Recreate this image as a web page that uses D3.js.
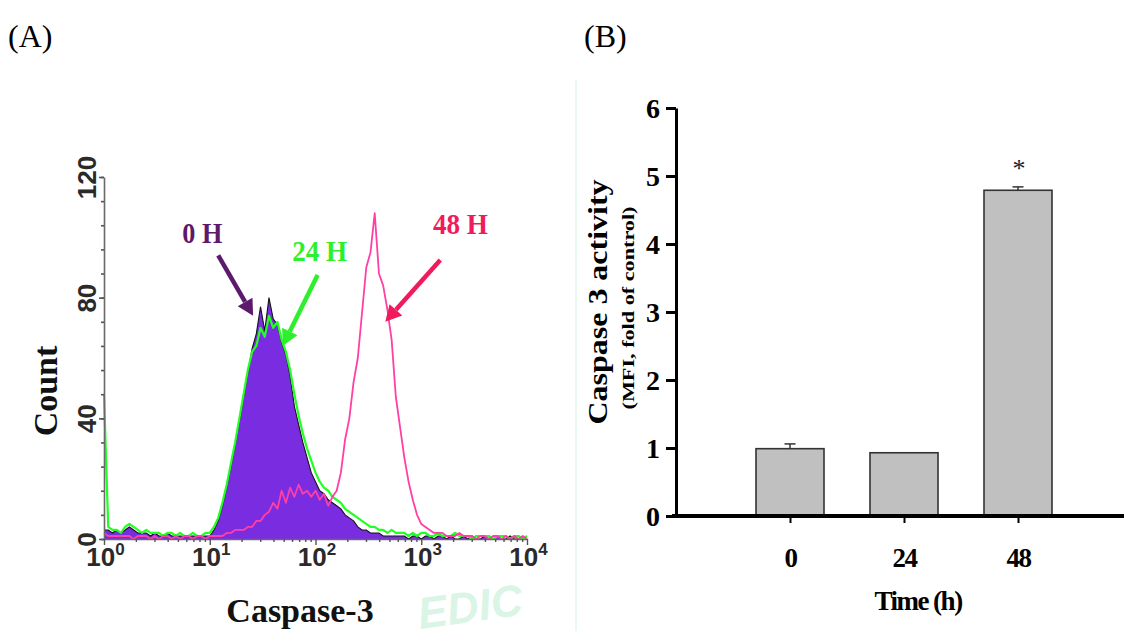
<!DOCTYPE html>
<html>
<head>
<meta charset="utf-8">
<script src="https://cdn.jsdelivr.net/npm/d3@7"></script>
<style>
  body { margin: 0; background: #fff; }
  svg { display: block; }
</style>
</head>
<body>
<svg id="chart" width="1124" height="631"></svg>
<script>
// ---- panel A : flow cytometry histogram, bins every 0.04 decade from 10^0 to 10^4 ----
const binDecades = d3.range(101).map(i => i * 0.04);

const count0H = [
  3, 3, 2, 3, 2, 3, 4, 3, 2, 2,
  2, 1, 2, 1, 1, 2, 1, 1, 1, 1,
  1, 1, 1, 1, 1, 1, 3, 6, 11, 17,
  24, 31, 39, 47, 55, 63, 68, 77, 69, 80,
  73, 71, 65, 61, 54, 44, 38, 32, 27, 22,
  19, 16, 15, 13, 12, 11, 10, 8, 7, 6,
  4, 3, 3, 2, 2, 2, 1, 1, 1, 1,
  1, 1, 0, 1, 1, 0, 1, 1, 0, 1,
  1, 0, 1, 0, 0, 1, 0, 1, 0, 0,
  1, 0, 0, 1, 0, 0, 1, 0, 0, 0, 0
];
const count24H = [
  48, 4, 3, 3, 2, 4, 5, 4, 3, 2,
  3, 2, 2, 2, 1, 2, 2, 1, 2, 1,
  1, 2, 1, 1, 2, 2, 4, 7, 12, 18,
  25, 32, 40, 48, 56, 62, 64, 70, 67, 74,
  70, 72, 66, 62, 56, 48, 41, 35, 30, 26,
  22, 19, 17, 16, 14, 13, 12, 10, 9, 8,
  7, 6, 5, 4, 4, 3, 3, 2, 3, 2,
  2, 2, 1, 2, 1, 2, 2, 1, 1, 2,
  1, 1, 1, 2, 1, 1, 1, 0, 1, 1,
  1, 1, 0, 1, 1, 1, 0, 1, 1, 0, 1
];
const count48H = [
  2, 1, 1, 1, 1, 1, 1, 0, 1, 1,
  1, 0, 1, 0, 1, 1, 0, 1, 0, 1,
  1, 0, 1, 1, 0, 1, 1, 1, 1, 2,
  2, 3, 3, 3, 4, 4, 6, 6, 8, 9,
  12, 10, 16, 12, 17, 14, 18, 15, 16, 14,
  16, 13, 15, 11, 14, 16, 22, 33, 40, 52,
  60, 75, 90, 95, 108, 88, 84, 76, 66, 47,
  37, 27, 19, 13, 8, 5, 4, 3, 2, 2,
  2, 1, 1, 1, 2, 1, 1, 1, 0, 1,
  1, 0, 1, 1, 0, 1, 0, 1, 0, 1, 0
];
const countTicks = [0, 40, 80, 120];
const decadeTicks = [1, 10, 100, 1000, 10000];

// ---- panel B : caspase 3 activity ----
const timeLabels = ["0", "24", "48"];
const activity = [0.99, 0.93, 4.79];
const activityErr = [0.07, 0, 0.05];
const activityTicks = [0, 1, 2, 3, 4, 5, 6];

const svg = d3.select("#chart");
const serif = "'Liberation Serif', 'Times New Roman', serif";
const sans = "'Liberation Sans', Arial, sans-serif";

// watermark remains
svg.append("line")
    .attr("x1", 576).attr("x2", 576).attr("y1", 80).attr("y2", 631)
    .attr("stroke", "#e2f7ea").attr("stroke-width", 1.5);
svg.append("text")
    .attr("transform", "translate(420,629) rotate(-8)")
    .style("font-family", sans).style("font-style", "italic").style("font-weight", "bold")
    .style("font-size", "44px")
    .attr("fill", "#daf5e5")
    .text("EDIC");

// panel letters
svg.append("text").attr("x", 8).attr("y", 47)
    .style("font-family", serif).style("font-size", "32px").text("(A)");
svg.append("text").attr("x", 584).attr("y", 47)
    .style("font-family", serif).style("font-size", "32px").text("(B)");

// ================= panel A =================
const xA = d3.scaleLog().domain([1, 10000]).range([104, 527]);
const yA = d3.scaleLinear().domain([0, 120]).range([539, 177]);

const bins = binDecades.map((d, i) => ({
  v: Math.pow(10, d), c0: count0H[i], c24: count24H[i], c48: count48H[i]
}));

const gA = svg.append("g");

gA.append("path")
    .datum(bins)
    .attr("fill", "#7a2ce0")
    .attr("d", d3.area().x(d => xA(d.v)).y0(yA(0)).y1(d => yA(d.c0)));
gA.append("path")
    .datum(bins)
    .attr("fill", "none").attr("stroke", "#141414").attr("stroke-width", 1.1)
    .attr("d", d3.line().x(d => xA(d.v)).y(d => yA(d.c0)));
gA.append("path")
    .datum(bins)
    .attr("fill", "none").attr("stroke", "#22ff22").attr("stroke-width", 2.2)
    .attr("stroke-linejoin", "round")
    .attr("d", d3.line().x(d => xA(d.v)).y(d => yA(d.c24)));
gA.append("path")
    .datum(bins)
    .attr("fill", "none").attr("stroke", "#ff3fa6").attr("stroke-width", 1.8)
    .attr("stroke-linejoin", "round")
    .attr("d", d3.line().x(d => xA(d.v)).y(d => yA(d.c48)));

// y axis A: minor ticks every 8, labelled ticks every 40
const yMinorA = gA.append("g")
    .attr("transform", `translate(${xA(1)},0)`)
    .call(d3.axisLeft(yA).tickValues(d3.range(0, 121, 8)).tickSize(3).tickSizeOuter(0).tickFormat(""));
yMinorA.selectAll("text").remove();
const yMajorA = gA.append("g")
    .attr("transform", `translate(${xA(1)},0)`)
    .call(d3.axisLeft(yA).tickValues(countTicks).tickSize(5).tickSizeOuter(0));
yMajorA.select(".domain").remove();
gA.selectAll("path.domain").attr("stroke", "#6a6a6a").attr("stroke-width", 1.6);
[yMinorA, yMajorA].forEach(g => g.selectAll("line").attr("stroke", "#555").attr("stroke-width", 1.6));
yMajorA.selectAll("text")
    .attr("x", null).attr("dy", null)
    .attr("transform", "translate(-8,0) rotate(-90)")
    .attr("text-anchor", "middle")
    .attr("fill", "#2a2a2a")
    .style("font-family", sans).style("font-weight", "bold").style("font-size", "26px");

// x axis A with log minor ticks
const minorDecade = [];
decadeTicks.slice(0, 4).forEach(p => d3.range(2, 10).forEach(k => minorDecade.push(p * k)));
const xMinorA = gA.append("g")
    .attr("transform", `translate(0,${yA(0)})`)
    .call(d3.axisBottom(xA).tickValues(minorDecade).tickSize(3).tickFormat("").tickSizeOuter(0));
xMinorA.selectAll("text").remove();
xMinorA.select(".domain").attr("stroke", "#6a6a6a").attr("stroke-width", 1.6);
xMinorA.selectAll("line").attr("stroke", "#555").attr("stroke-width", 1.4);
const xMajorA = gA.append("g")
    .attr("transform", `translate(0,${yA(0)})`)
    .call(d3.axisBottom(xA).tickValues(decadeTicks).tickSize(6).tickSizeOuter(0));
xMajorA.select(".domain").remove();
xMajorA.selectAll("line").attr("stroke", "#555").attr("stroke-width", 1.4);
xMajorA.selectAll("text")
    .attr("y", 27).attr("dy", null).attr("x", 1)
    .attr("fill", "#2a2a2a")
    .style("font-family", sans).style("font-weight", "bold").style("font-size", "26px")
    .each(function(d) {
      const t = d3.select(this);
      t.text(null);
      t.append("tspan").text("10");
      t.append("tspan").attr("dy", -11).style("font-size", "17px").text(Math.round(Math.log10(d)));
    });

gA.append("text")
    .attr("transform", "translate(57,391) rotate(-90)")
    .attr("text-anchor", "middle")
    .style("font-family", serif).style("font-weight", "bold").style("font-size", "34px")
    .attr("fill", "#111")
    .text("Count");
gA.append("text")
    .attr("x", 300).attr("y", 622)
    .attr("text-anchor", "middle")
    .style("font-family", serif).style("font-weight", "bold").style("font-size", "34px")
    .attr("fill", "#111")
    .text("Caspase-3");

// series labels + arrows (in data units)
const labelsA = [
  { text: "0 H", color: "#5c1a6c", dec: 0.93, cnt: 98, len: 40, from: [1.08, 94], to: [1.41, 74] },
  { text: "24 H", color: "#2cf02c", dec: 2.04, cnt: 92, len: 55, from: [2.02, 87.5], to: [1.69, 64] },
  { text: "48 H", color: "#f01a5c", dec: 3.37, cnt: 101, len: 55, from: [3.18, 92.5], to: [2.66, 72] }
];
labelsA.forEach(l => {
  gA.append("text")
      .attr("x", xA(Math.pow(10, l.dec))).attr("y", yA(l.cnt))
      .attr("text-anchor", "middle")
      .attr("textLength", l.len).attr("lengthAdjust", "spacingAndGlyphs")
      .style("font-family", serif).style("font-weight", "bold").style("font-size", "29px")
      .attr("fill", l.color)
      .text(l.text);
  const x1 = xA(Math.pow(10, l.from[0])), y1 = yA(l.from[1]);
  const x2 = xA(Math.pow(10, l.to[0])), y2 = yA(l.to[1]);
  const ang = Math.atan2(y2 - y1, x2 - x1);
  const head = 16, half = 8.5;
  const bx = x2 - head * Math.cos(ang), by = y2 - head * Math.sin(ang);
  gA.append("line")
      .attr("x1", x1).attr("y1", y1).attr("x2", bx).attr("y2", by)
      .attr("stroke", l.color).attr("stroke-width", 4.5);
  gA.append("path")
      .attr("d", `M${x2},${y2}L${bx + half * Math.sin(ang)},${by - half * Math.cos(ang)}L${bx - half * Math.sin(ang)},${by + half * Math.cos(ang)}Z`)
      .attr("fill", l.color);
});

// ================= panel B =================
const xB = d3.scalePoint().domain(timeLabels).range([790, 1018]);
const yB = d3.scaleLinear().domain([0, 6]).range([516, 108]);
const barW = 68;

const gB = svg.append("g");

gB.selectAll("rect.bar")
    .data(timeLabels)
    .enter().append("rect")
    .attr("class", "bar")
    .attr("x", d => xB(d) - barW / 2)
    .attr("y", (d, i) => yB(activity[i]))
    .attr("width", barW)
    .attr("height", (d, i) => yB(0) - yB(activity[i]))
    .attr("fill", "#c0c0c0")
    .attr("stroke", "#333").attr("stroke-width", 1.6);

timeLabels.forEach((d, i) => {
  if (!activityErr[i]) return;
  const top = yB(activity[i] + activityErr[i]);
  gB.append("line")
      .attr("x1", xB(d)).attr("x2", xB(d))
      .attr("y1", yB(activity[i])).attr("y2", top)
      .attr("stroke", "#333").attr("stroke-width", 1.5);
  gB.append("line")
      .attr("x1", xB(d) - 5.5).attr("x2", xB(d) + 5.5)
      .attr("y1", top).attr("y2", top)
      .attr("stroke", "#333").attr("stroke-width", 1.5);
});

gB.append("text")
    .attr("x", xB("48") + 1).attr("y", yB(activity[2] + activityErr[2]) - 10)
    .attr("text-anchor", "middle")
    .style("font-family", serif).style("font-size", "26px")
    .attr("fill", "#1a2030")
    .text("*");

// axes B
const yAxisB = gB.append("g")
    .attr("transform", "translate(676,0)")
    .call(d3.axisLeft(yB).tickValues(activityTicks).tickFormat(d3.format("d"))
      .tickSize(10).tickSizeOuter(0).tickPadding(6));
yAxisB.selectAll("path").attr("stroke", "#000").attr("stroke-width", 3);
yAxisB.selectAll("line").attr("stroke", "#000").attr("stroke-width", 3);
yAxisB.selectAll("text")
    .attr("dy", "0.34em")
    .attr("fill", "#000")
    .style("font-family", serif).style("font-weight", "bold").style("font-size", "28px");

gB.append("line")
    .attr("x1", 672).attr("x2", 1124).attr("y1", yB(0)).attr("y2", yB(0))
    .attr("stroke", "#000").attr("stroke-width", 4);

const xAxisB = gB.append("g")
    .attr("transform", `translate(0,${yB(0)})`)
    .call(d3.axisBottom(xB).tickSize(7).tickSizeOuter(0));
xAxisB.select(".domain").remove();
xAxisB.selectAll("line").attr("stroke", "#000").attr("stroke-width", 2);
xAxisB.selectAll("text")
    .attr("y", 51).attr("dy", null)
    .attr("fill", "#000")
    .attr("letter-spacing", "-1.5px")
    .style("font-family", serif).style("font-weight", "bold").style("font-size", "27px");

gB.append("text")
    .attr("x", 918).attr("y", 610)
    .attr("text-anchor", "middle")
    .attr("letter-spacing", "-1.5px")
    .style("font-family", serif).style("font-weight", "bold").style("font-size", "27px")
    .text("Time (h)");

gB.append("text")
    .attr("transform", "translate(607,302) rotate(-90)")
    .attr("text-anchor", "middle")
    .attr("textLength", 245).attr("lengthAdjust", "spacingAndGlyphs")
    .style("font-family", serif).style("font-weight", "bold").style("font-size", "28px")
    .text("Caspase 3 activity");
gB.append("text")
    .attr("transform", "translate(634,308) rotate(-90)")
    .attr("text-anchor", "middle")
    .attr("textLength", 203).attr("lengthAdjust", "spacingAndGlyphs")
    .style("font-family", serif).style("font-weight", "bold").style("font-size", "17px")
    .text("(MFI, fold of control)");
</script>
</body>
</html>
